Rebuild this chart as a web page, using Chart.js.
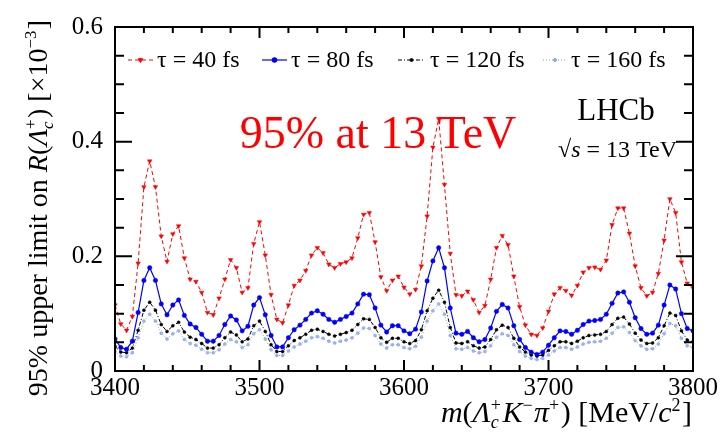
<!DOCTYPE html>
<html>
<head>
<meta charset="utf-8">
<script src="https://cdn.jsdelivr.net/npm/chart.js@4.4.1/dist/chart.umd.min.js"></script>
<style>
  html, body { margin: 0; padding: 0; background: #fff; }
</style>
</head>
<body>
<canvas id="limitchart" width="720" height="434"></canvas>
<script>
// mass points [MeV/c^2]
const masses = [3400,3404,3408,3412,3416,3420,3424,3428,3432,3436,3440,3444,3448,3452,3456,3460,3464,3468,3472,3476,
  3480,3484,3488,3492,3496,3500,3504,3508,3512,3516,3520,3524,3528,3532,3536,3540,3544,3548,3552,3556,
  3560,3564,3568,3572,3576,3580,3584,3588,3592,3596,3600,3604,3608,3612,3616,3620,3624,3628,3632,3636,
  3640,3644,3648,3652,3656,3660,3664,3668,3672,3676,3680,3684,3688,3692,3696,3700,3704,3708,3712,3716,
  3720,3724,3728,3732,3736,3740,3744,3748,3752,3756,3760,3764,3768,3772,3776,3780,3784,3788,3792,3796,3800];

// 95% upper limits [x10^-3]
const tau40 = [0.115,0.082,0.071,0.095,0.188,0.321,0.366,0.321,0.235,0.191,
  0.239,0.253,0.197,0.160,0.156,0.137,0.102,0.098,0.127,0.160,
  0.194,0.180,0.137,0.145,0.222,0.260,0.202,0.133,0.090,0.084,
  0.115,0.149,0.158,0.175,0.202,0.215,0.206,0.186,0.180,0.187,
  0.190,0.197,0.232,0.273,0.276,0.225,0.164,0.140,0.158,0.165,
  0.146,0.134,0.142,0.183,0.270,0.390,0.440,0.325,0.205,0.133,
  0.131,0.139,0.124,0.102,0.114,0.160,0.215,0.236,0.220,0.165,
  0.112,0.080,0.064,0.062,0.075,0.104,0.134,0.145,0.140,0.132,
  0.149,0.172,0.180,0.181,0.177,0.193,0.255,0.284,0.284,0.240,
  0.183,0.145,0.131,0.137,0.170,0.228,0.300,0.276,0.190,0.153,
  0.145];
const tau80 = [0.056,0.041,0.038,0.052,0.102,0.158,0.180,0.158,0.117,0.098,
  0.115,0.124,0.097,0.082,0.076,0.064,0.052,0.052,0.062,0.081,
  0.096,0.089,0.070,0.078,0.115,0.128,0.098,0.062,0.042,0.042,
  0.058,0.072,0.080,0.090,0.101,0.105,0.099,0.090,0.085,0.090,
  0.095,0.101,0.117,0.134,0.133,0.110,0.080,0.068,0.079,0.079,
  0.070,0.065,0.073,0.103,0.157,0.192,0.215,0.180,0.110,0.066,
  0.064,0.069,0.058,0.051,0.055,0.075,0.104,0.116,0.110,0.079,
  0.055,0.041,0.033,0.029,0.033,0.045,0.058,0.070,0.069,0.064,
  0.071,0.081,0.087,0.088,0.090,0.099,0.118,0.136,0.138,0.120,
  0.093,0.074,0.064,0.066,0.080,0.115,0.150,0.143,0.100,0.074,
  0.070];
const tau120 = [0.043,0.033,0.032,0.040,0.071,0.106,0.120,0.106,0.081,0.069,
  0.079,0.085,0.068,0.059,0.055,0.048,0.040,0.040,0.046,0.058,
  0.068,0.063,0.051,0.056,0.079,0.087,0.069,0.046,0.034,0.034,
  0.044,0.053,0.058,0.064,0.071,0.073,0.069,0.064,0.061,0.064,
  0.067,0.071,0.081,0.091,0.090,0.076,0.058,0.050,0.057,0.057,
  0.051,0.048,0.053,0.072,0.105,0.127,0.141,0.120,0.076,0.049,
  0.048,0.051,0.044,0.040,0.042,0.055,0.072,0.080,0.076,0.057,
  0.042,0.033,0.028,0.026,0.028,0.036,0.044,0.051,0.051,0.048,
  0.052,0.058,0.062,0.063,0.064,0.069,0.081,0.092,0.094,0.082,
  0.066,0.054,0.048,0.049,0.058,0.079,0.101,0.097,0.070,0.054,
  0.051];
const tau160 = [0.034,0.026,0.025,0.032,0.058,0.087,0.099,0.087,0.066,0.056,
  0.065,0.070,0.055,0.048,0.045,0.038,0.032,0.032,0.037,0.047,
  0.055,0.051,0.041,0.046,0.065,0.072,0.056,0.037,0.027,0.027,
  0.035,0.042,0.047,0.052,0.058,0.060,0.057,0.052,0.049,0.052,
  0.054,0.058,0.066,0.075,0.074,0.062,0.047,0.040,0.046,0.046,
  0.041,0.039,0.043,0.059,0.087,0.105,0.117,0.099,0.062,0.039,
  0.038,0.041,0.035,0.032,0.034,0.044,0.059,0.065,0.062,0.046,
  0.034,0.026,0.022,0.020,0.022,0.028,0.035,0.041,0.041,0.038,
  0.042,0.047,0.050,0.051,0.052,0.057,0.066,0.076,0.077,0.067,
  0.053,0.044,0.038,0.039,0.047,0.065,0.083,0.079,0.057,0.044,
  0.041];

const seriesLabels = ["\u03c4 = 40 fs", "\u03c4 = 80 fs", "\u03c4 = 120 fs", "\u03c4 = 160 fs"];
const xTicks = [3400, 3500, 3600, 3700, 3800];
const yTicks = [0, 0.2, 0.4, 0.6];

const SERIF = '"Liberation Serif", "DejaVu Serif", serif';

function toPoints(vals) {
  return masses.map((m, i) => ({ x: m, y: vals[i] }));
}

//rich text: parts are {t, it} or {sup, sub, subIt}
function setFont(ctx, size, it) {
  ctx.font = (it ? "italic " : "") + size + "px " + SERIF;
}
function partWidth(ctx, p, size) {
  if (p.t !== undefined) {
    setFont(ctx, size, p.it);
    return ctx.measureText(p.t).width;
  }
  let w = 0;
  if (p.sup) { setFont(ctx, size * 0.6, false); w = Math.max(w, ctx.measureText(p.sup).width); }
  if (p.sub) { setFont(ctx, size * 0.6, p.subIt); w = Math.max(w, ctx.measureText(p.sub).width); }
  return w + size * 0.05;
}
function drawRich(ctx, parts, x, y, size, align) {
  const total = parts.reduce((s, p) => s + partWidth(ctx, p, size), 0);
  let cx = align === "right" ? x - total : align === "center" ? x - total / 2 : x;
  ctx.textAlign = "left";
  ctx.textBaseline = "alphabetic";
  parts.forEach((p) => {
    const w = partWidth(ctx, p, size);
    if (p.t !== undefined) {
      setFont(ctx, size, p.it);
      ctx.fillText(p.t, cx, y);
    } else {
      if (p.sup) { setFont(ctx, size * 0.6, false); ctx.fillText(p.sup, cx, y - size * 0.38); }
      if (p.sub) { setFont(ctx, size * 0.6, p.subIt); ctx.fillText(p.sub, cx, y + size * 0.2); }
    }
    cx += w;
  });
}

const yTitle = [
  { t: "95% upper limit on " }, { t: "R", it: true }, { t: "(" }, { t: "\u039b", it: true },
  { sup: "+", sub: "c", subIt: true }, { t: ")" }, { t: " [\u00d710" }, { sup: "\u22123" }, { t: "]" }
];
const xTitle = [
  { t: "m", it: true }, { t: "(" }, { t: "\u039b", it: true }, { sup: "+", sub: "c", subIt: true },
  { t: "K", it: true }, { sup: "\u2212" }, { t: "\u03c0", it: true }, { sup: "+" }, { t: ")" },
  { t: " [MeV/" }, { t: "c", it: true }, { sup: "2" }, { t: "]" }
];

// legend slots inside the frame
const legendSlots = [
  { x0: 128, x1: 153, tx: 157 },
  { x0: 262, x1: 287, tx: 291 },
  { x0: 398, x1: 425, tx: 430 },
  { x0: 543, x1: 567, tx: 571 }
];

const framePlugin = {
  id: "frame",
  afterDatasetsDraw(chart) {
    const { ctx, chartArea: a, scales } = chart;
    const xs = scales.x, ys = scales.y;
    ctx.save();
    ctx.strokeStyle = "#000";
    ctx.lineWidth = 2;
    ctx.strokeRect(a.left, a.top, a.right - a.left, a.bottom - a.top);
    ctx.beginPath();
    for (let m = 3400; m <= 3800; m += 20) {
      const px = xs.getPixelForValue(m);
      const len = m % 100 === 0 ? 11 : 6;
      ctx.moveTo(px, a.bottom); ctx.lineTo(px, a.bottom - len);
      ctx.moveTo(px, a.top); ctx.lineTo(px, a.top + len);
    }
    for (let k = 0; k <= 12; k++) {
      const py = ys.getPixelForValue(k * 0.05);
      const len = k % 4 === 0 ? 17 : 9;
      ctx.moveTo(a.left, py); ctx.lineTo(a.left + len, py);
      ctx.moveTo(a.right, py); ctx.lineTo(a.right - len, py);
    }
    ctx.stroke();

    // legend
    chart.data.datasets.forEach((ds, i) => {
      const s = legendSlots[i];
      const ly = 60;
      ctx.save();
      ctx.strokeStyle = ds.borderColor;
      ctx.lineWidth = ds.borderWidth;
      ctx.setLineDash(ds.borderDash || []);
      ctx.beginPath();
      ctx.moveTo(s.x0, ly); ctx.lineTo(s.x1, ly);
      ctx.stroke();
      ctx.setLineDash([]);
      ctx.fillStyle = ds.pointBackgroundColor;
      ctx.strokeStyle = ds.borderColor;
      if (Chart.helpers && Chart.helpers.drawPoint) {
        Chart.helpers.drawPoint(ctx, {
          pointStyle: ds.pointStyle, radius: ds.pointRadius,
          rotation: ds.pointRotation || 0, borderWidth: ds.pointBorderWidth
        }, (s.x0 + s.x1) / 2, ly);
      }
      ctx.restore();
      ctx.fillStyle = "#000";
      ctx.textAlign = "left";
      ctx.textBaseline = "middle";
      setFont(ctx, 24, false);
      ctx.fillText(ds.label, s.tx, ly + 1);
    });

    // annotations
    ctx.fillStyle = "#ff0000";
    ctx.textAlign = "center";
    ctx.textBaseline = "alphabetic";
    setFont(ctx, 46, false);
    ctx.fillText("95% at 13 TeV", 378, 148);

    ctx.fillStyle = "#000";
    setFont(ctx, 31, false);
    ctx.fillText("LHCb", 616, 120);
    drawRich(ctx, [{ t: "\u221a" }, { t: "s", it: true }, { t: " = 13 TeV" }], 677, 157, 24, "right");

    // axis titles
    drawRich(ctx, xTitle, 692, 422, 30, "right");
    ctx.save();
    ctx.translate(47, 20);
    ctx.rotate(-Math.PI / 2);
    drawRich(ctx, yTitle, 0, 0, 28, "right");
    ctx.restore();
    ctx.restore();
  }
};

var limitCanvas = document.getElementById("limitchart").getContext("2d");
var limitChart = new Chart(limitCanvas, {
  type: "line",
  data: {
    datasets: [
      {
        label: seriesLabels[0],
        data: toPoints(tau40),
        borderColor: "#ff0000",
        borderWidth: 1,
        borderDash: [4, 3],
        pointStyle: "triangle",
        pointRotation: 180,
        pointRadius: 2.6,
        pointBorderWidth: 0.5,
        pointBackgroundColor: "#ff0000",
        pointBorderColor: "#ff0000",
      },
      {
        label: seriesLabels[1],
        data: toPoints(tau80),
        borderColor: "#0000ff",
        borderWidth: 1.2,
        pointStyle: "circle",
        pointRadius: 2.2,
        pointBorderWidth: 0.5,
        pointBackgroundColor: "#0000ff",
        pointBorderColor: "#0000ff",
      },
      {
        label: seriesLabels[2],
        data: toPoints(tau120),
        borderColor: "#000000",
        borderWidth: 1,
        borderDash: [4, 2, 1, 2],
        pointStyle: "circle",
        pointRadius: 1.5,
        pointBorderWidth: 0.5,
        pointBackgroundColor: "#000000",
        pointBorderColor: "#000000",
      },
      {
        label: seriesLabels[3],
        data: toPoints(tau160),
        borderColor: "#7f9fe0",
        borderWidth: 1,
        borderDash: [1, 2],
        pointStyle: "circle",
        pointRadius: 1.5,
        pointBorderWidth: 0.5,
        pointBackgroundColor: "#9fb5e6",
        pointBorderColor: "#7f9fe0",
      },
    ],
  },
  options: {
    responsive: false,
    animation: false,
    layout: { padding: { top: 17, right: 27, left: 0, bottom: 0 } },
    plugins: { legend: { display: false }, tooltip: { enabled: false } },
    scales: {
      x: {
        type: "linear",
        min: 3400,
        max: 3800,
        afterBuildTicks: (s) => { s.ticks = xTicks.map((v) => ({ value: v })); },
        afterFit: (s) => { s.height = 63; },
        grid: { display: false, drawTicks: false },
        border: { display: false },
        ticks: {
          color: "#000",
          padding: 2,
          maxRotation: 0,
          font: { family: SERIF, size: 25 },
          callback: (v) => String(v),
        },
      },
      y: {
        min: 0,
        max: 0.6,
        afterBuildTicks: (s) => { s.ticks = yTicks.map((v) => ({ value: v })); },
        afterFit: (s) => { s.width = 115; },
        grid: { display: false, drawTicks: false },
        border: { display: false },
        ticks: {
          color: "#000",
          padding: 12,
          font: { family: SERIF, size: 25 },
          callback: (v) => (v === 0 ? "0" : v.toFixed(1)),
        },
      },
    },
  },
  plugins: [framePlugin],
});
</script>
</body>
</html>
